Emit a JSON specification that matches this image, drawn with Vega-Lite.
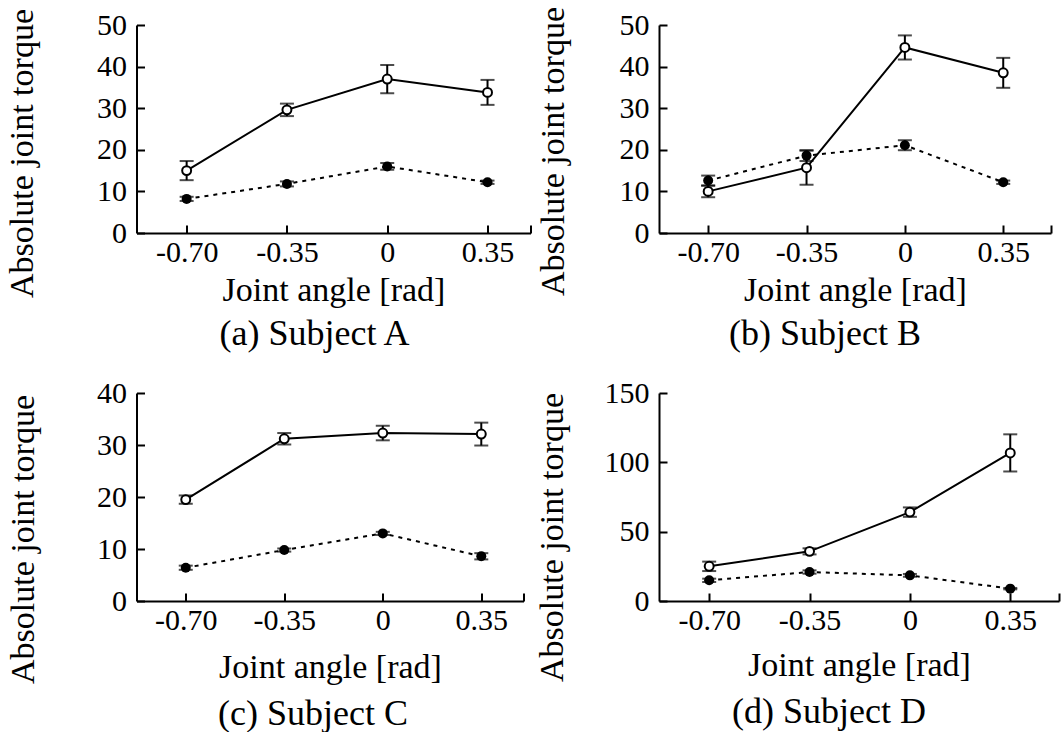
{
  "$schema": "https://vega.github.io/schema/vega-lite/v6.json",
  "background": "white",
  "padding": {"left": 4.5, "top": 6, "right": 0, "bottom": 0},
  "datasets": {
    "torque": [
      {"panel": "A", "series": "open", "angle": -0.7, "torque": 15.0, "err": 2.3},
      {"panel": "A", "series": "open", "angle": -0.35, "torque": 29.6, "err": 1.5},
      {"panel": "A", "series": "open", "angle": 0, "torque": 37.0, "err": 3.4},
      {"panel": "A", "series": "open", "angle": 0.35, "torque": 33.8, "err": 3.0},
      {"panel": "A", "series": "filled", "angle": -0.7, "torque": 8.2, "err": 0.5},
      {"panel": "A", "series": "filled", "angle": -0.35, "torque": 11.8, "err": 0.6},
      {"panel": "A", "series": "filled", "angle": 0, "torque": 16.0, "err": 0.8},
      {"panel": "A", "series": "filled", "angle": 0.35, "torque": 12.2, "err": 0.4},
      {"panel": "B", "series": "open", "angle": -0.7, "torque": 10.0, "err": 1.4},
      {"panel": "B", "series": "open", "angle": -0.35, "torque": 15.7, "err": 4.1},
      {"panel": "B", "series": "open", "angle": 0, "torque": 44.6, "err": 2.9},
      {"panel": "B", "series": "open", "angle": 0.35, "torque": 38.5, "err": 3.6},
      {"panel": "B", "series": "filled", "angle": -0.7, "torque": 12.6, "err": 1.2},
      {"panel": "B", "series": "filled", "angle": -0.35, "torque": 18.6, "err": 1.3},
      {"panel": "B", "series": "filled", "angle": 0, "torque": 21.1, "err": 1.2},
      {"panel": "B", "series": "filled", "angle": 0.35, "torque": 12.2, "err": 0.4},
      {"panel": "C", "series": "open", "angle": -0.7, "torque": 19.5, "err": 0.8},
      {"panel": "C", "series": "open", "angle": -0.35, "torque": 31.2, "err": 1.1},
      {"panel": "C", "series": "open", "angle": 0, "torque": 32.3, "err": 1.4},
      {"panel": "C", "series": "open", "angle": 0.35, "torque": 32.1, "err": 2.2},
      {"panel": "C", "series": "filled", "angle": -0.7, "torque": 6.4, "err": 0.4},
      {"panel": "C", "series": "filled", "angle": -0.35, "torque": 9.8, "err": 0.3},
      {"panel": "C", "series": "filled", "angle": 0, "torque": 13.0, "err": 0.3},
      {"panel": "C", "series": "filled", "angle": 0.35, "torque": 8.6, "err": 0.6},
      {"panel": "D", "series": "open", "angle": -0.7, "torque": 25.0, "err": 3.4},
      {"panel": "D", "series": "open", "angle": -0.35, "torque": 35.8, "err": 2.2},
      {"panel": "D", "series": "open", "angle": 0, "torque": 64.1, "err": 3.4},
      {"panel": "D", "series": "open", "angle": 0.35, "torque": 106.8, "err": 13.4},
      {"panel": "D", "series": "filled", "angle": -0.7, "torque": 14.9, "err": 1.2},
      {"panel": "D", "series": "filled", "angle": -0.35, "torque": 20.9, "err": 1.2},
      {"panel": "D", "series": "filled", "angle": 0, "torque": 18.5, "err": 1.0},
      {"panel": "D", "series": "filled", "angle": 0.35, "torque": 8.9, "err": 0.5}
    ]
  },
  "columns": 2,
  "spacing": {"row": 26, "column": 2.5},
  "concat": [
    {
      "width": 394, "height": 208,
      "data": {"name": "torque"},
      "title": {"text": "(a) Subject A", "orient": "bottom", "frame": "group", "anchor": "middle", "dx": -19, "offset": 38, "baseline": "alphabetic"},
      "transform": [{"filter": "datum.panel === 'A'"}],
      "encoding": {
        "x": {"field": "angle", "type": "quantitative", "scale": {"domain": [-0.875, 0.5], "nice": false, "zero": false},
          "axis": {"title": "Joint angle [rad]", "values": [-0.7, -0.35, 0, 0.35, 0.5], "labelExpr": "datum.value == -0.7 ? '-0.70' : datum.value == -0.35 ? '-0.35' : datum.value == 0 ? '0' : datum.value == 0.35 ? '0.35' : ''", "titleY": 67}},
        "y": {"field": "torque", "type": "quantitative", "scale": {"domain": [0, 50], "nice": false},
          "axis": {"title": "Absolute joint torque", "values": [0, 10, 20, 30, 40, 50], "titleX": -104.5, "titleY": 128}}
      },
      "layer": [
        {"transform": [{"filter": "datum.series === 'open'"}], "mark": {"type": "line", "color": "black", "strokeWidth": 2}},
        {"transform": [{"filter": "datum.series === 'filled'"}], "mark": {"type": "line", "color": "black", "strokeWidth": 2, "strokeDash": [4, 5]}},
        {"mark": {"type": "errorbar", "ticks": true, "size": 14, "thickness": 2, "color": "black"}, "encoding": {"yError": {"field": "err"}}},
        {"transform": [{"filter": "datum.series === 'filled'"}], "mark": {"type": "point", "shape": "circle", "filled": true, "color": "black", "size": 100, "opacity": 1}},
        {"transform": [{"filter": "datum.series === 'open'"}], "mark": {"type": "point", "shape": "circle", "filled": true, "fill": "white", "stroke": "black", "strokeWidth": 2, "size": 80, "opacity": 1}}
      ]
    },
    {
      "width": 392, "height": 208,
      "data": {"name": "torque"},
      "title": {"text": "(b) Subject B", "orient": "bottom", "frame": "group", "anchor": "middle", "dx": -30, "offset": 38, "baseline": "alphabetic"},
      "transform": [{"filter": "datum.panel === 'B'"}],
      "encoding": {
        "x": {"field": "angle", "type": "quantitative", "scale": {"domain": [-0.875, 0.52], "nice": false, "zero": false},
          "axis": {"title": "Joint angle [rad]", "values": [-0.7, -0.35, 0, 0.35, 0.52], "labelExpr": "datum.value == -0.7 ? '-0.70' : datum.value == -0.35 ? '-0.35' : datum.value == 0 ? '0' : datum.value == 0.35 ? '0.35' : ''", "titleY": 67}},
        "y": {"field": "torque", "type": "quantitative", "scale": {"domain": [0, 50], "nice": false},
          "axis": {"title": "Absolute joint torque", "values": [0, 10, 20, 30, 40, 50], "titleX": -95.5, "titleY": 126}}
      },
      "layer": [
        {"transform": [{"filter": "datum.series === 'open'"}], "mark": {"type": "line", "color": "black", "strokeWidth": 2}},
        {"transform": [{"filter": "datum.series === 'filled'"}], "mark": {"type": "line", "color": "black", "strokeWidth": 2, "strokeDash": [4, 5]}},
        {"mark": {"type": "errorbar", "ticks": true, "size": 14, "thickness": 2, "color": "black"}, "encoding": {"yError": {"field": "err"}}},
        {"transform": [{"filter": "datum.series === 'filled'"}], "mark": {"type": "point", "shape": "circle", "filled": true, "color": "black", "size": 100, "opacity": 1}},
        {"transform": [{"filter": "datum.series === 'open'"}], "mark": {"type": "point", "shape": "circle", "filled": true, "fill": "white", "stroke": "black", "strokeWidth": 2, "size": 80, "opacity": 1}}
      ]
    },
    {
      "width": 387, "height": 208,
      "data": {"name": "torque"},
      "title": {"text": "(c) Subject C", "orient": "bottom", "frame": "group", "anchor": "middle", "dx": -17, "offset": 41, "baseline": "alphabetic"},
      "transform": [{"filter": "datum.panel === 'C'"}],
      "encoding": {
        "x": {"field": "angle", "type": "quantitative", "scale": {"domain": [-0.875, 0.5], "nice": false, "zero": false},
          "axis": {"title": "Joint angle [rad]", "values": [-0.7, -0.35, 0, 0.35, 0.5], "labelExpr": "datum.value == -0.7 ? '-0.70' : datum.value == -0.35 ? '-0.35' : datum.value == 0 ? '0' : datum.value == 0.35 ? '0.35' : ''", "titleY": 76}},
        "y": {"field": "torque", "type": "quantitative", "scale": {"domain": [0, 40], "nice": false},
          "axis": {"title": "Absolute joint torque", "values": [0, 10, 20, 30, 40], "titleX": -103.3, "titleY": 146}}
      },
      "layer": [
        {"transform": [{"filter": "datum.series === 'open'"}], "mark": {"type": "line", "color": "black", "strokeWidth": 2}},
        {"transform": [{"filter": "datum.series === 'filled'"}], "mark": {"type": "line", "color": "black", "strokeWidth": 2, "strokeDash": [4, 5]}},
        {"mark": {"type": "errorbar", "ticks": true, "size": 14, "thickness": 2, "color": "black"}, "encoding": {"yError": {"field": "err"}}},
        {"transform": [{"filter": "datum.series === 'filled'"}], "mark": {"type": "point", "shape": "circle", "filled": true, "color": "black", "size": 100, "opacity": 1}},
        {"transform": [{"filter": "datum.series === 'open'"}], "mark": {"type": "point", "shape": "circle", "filled": true, "fill": "white", "stroke": "black", "strokeWidth": 2, "size": 80, "opacity": 1}}
      ]
    },
    {
      "width": 400, "height": 208,
      "data": {"name": "torque"},
      "title": {"text": "(d) Subject D", "orient": "bottom", "frame": "group", "anchor": "middle", "dx": -30, "offset": 41, "baseline": "alphabetic"},
      "transform": [{"filter": "datum.panel === 'D'"}],
      "encoding": {
        "x": {"field": "angle", "type": "quantitative", "scale": {"domain": [-0.875, 0.52], "nice": false, "zero": false},
          "axis": {"title": "Joint angle [rad]", "values": [-0.7, -0.35, 0, 0.35, 0.52], "labelExpr": "datum.value == -0.7 ? '-0.70' : datum.value == -0.35 ? '-0.35' : datum.value == 0 ? '0' : datum.value == 0.35 ? '0.35' : ''", "titleY": 74}},
        "y": {"field": "torque", "type": "quantitative", "scale": {"domain": [0, 150], "nice": false},
          "axis": {"title": "Absolute joint torque", "values": [0, 50, 100, 150], "titleX": -97, "titleY": 144}}
      },
      "layer": [
        {"transform": [{"filter": "datum.series === 'open'"}], "mark": {"type": "line", "color": "black", "strokeWidth": 2}},
        {"transform": [{"filter": "datum.series === 'filled'"}], "mark": {"type": "line", "color": "black", "strokeWidth": 2, "strokeDash": [4, 5]}},
        {"mark": {"type": "errorbar", "ticks": true, "size": 14, "thickness": 2, "color": "black"}, "encoding": {"yError": {"field": "err"}}},
        {"transform": [{"filter": "datum.series === 'filled'"}], "mark": {"type": "point", "shape": "circle", "filled": true, "color": "black", "size": 100, "opacity": 1}},
        {"transform": [{"filter": "datum.series === 'open'"}], "mark": {"type": "point", "shape": "circle", "filled": true, "fill": "white", "stroke": "black", "strokeWidth": 2, "size": 80, "opacity": 1}}
      ]
    }
  ],
  "config": {
    "view": {"stroke": null},
    "font": "Liberation Serif, Times New Roman, serif",
    "axis": {"domainColor": "black", "domainWidth": 2, "tickColor": "black", "tickWidth": 2, "tickSize": -8, "labelFont": "Liberation Serif, Times New Roman, serif", "labelFontSize": 30, "labelColor": "black", "titleFont": "Liberation Serif, Times New Roman, serif", "titleFontSize": 34, "titleFontWeight": "normal", "titleColor": "black", "titleBaseline": "alphabetic", "grid": false, "labelFlush": false, "labelOverlap": false, "labelBound": false},
    "axisX": {"labelPadding": 12},
    "axisY": {"labelPadding": 18},
    "title": {"font": "Liberation Serif, Times New Roman, serif", "fontSize": 36, "fontWeight": "normal", "color": "black"}
  }
}
